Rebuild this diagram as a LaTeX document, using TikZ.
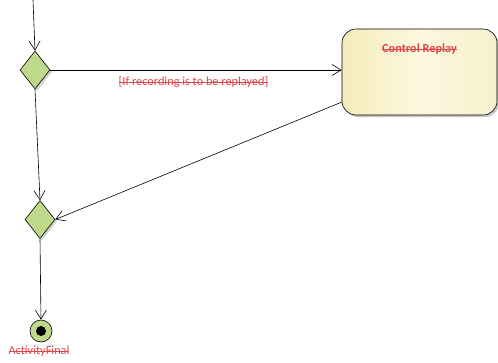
\documentclass[tikz,border=0pt]{standalone}
\usepackage{fontspec}
\setmainfont{Carlito}
\usetikzlibrary{arrows.meta,shapes.geometric,shadows}
\definecolor{lbl}{HTML}{E0474C}
\definecolor{dgreen}{HTML}{BFD98A}
\definecolor{yleft}{HTML}{F6EBBC}
\definecolor{ymid}{HTML}{FCF8E0}
\definecolor{yright}{HTML}{F7F0CC}
\tikzset{
  flow/.style={draw=black, line width=0.6pt, -{Straight Barb[length=9pt,width=11pt,line width=0.6pt]}},
  decision/.style={diamond, draw=black, line width=0.6pt, fill=dgreen, minimum width=30pt, minimum height=38pt, inner sep=0pt, aspect=0.8,
     drop shadow={shadow xshift=2pt, shadow yshift=-2pt, fill=gray!35, opacity=1}},
  action/.style={rounded corners=14pt, draw=black, line width=0.6pt, left color=yleft, right color=yright, middle color=ymid,
     minimum width=155pt, minimum height=86pt,
     drop shadow={shadow xshift=2pt, shadow yshift=-2pt, fill=gray!45, opacity=1}},
  lbltext/.style={text=lbl, font=\fontsize{12.3pt}{14pt}\selectfont, inner sep=0pt, text height=8.5pt, text depth=2.5pt,
     path picture={\draw[lbl, line width=0.7pt] (path picture bounding box.west) -- (path picture bounding box.east);}},
}
\begin{document}
\begin{tikzpicture}[x=1pt,y=-1pt]
\useasboundingbox (0,0) rectangle (498,362);
\coordinate (start) at (33,0);
\node[decision] (d1) at (35,70) {};
\node[decision] (d2) at (40,219.5) {};
\node[action] (act) at (419.5,72) {};
\node[lbltext, font=\bfseries\fontsize{12.3pt}{14pt}\selectfont] (actlbl) at (419.5,49) {Control Replay};
\node[circle, draw=black, line width=0.6pt, fill=dgreen, minimum size=22pt, inner sep=0pt] (fin) at (41,331) {};
\node[circle, fill=black, minimum size=10pt, inner sep=0pt] (finin) at (fin) {};
\node[lbltext] (finlbl) at (39,351.5) {ActivityFinal};
\draw[flow] (start) -- (d1.north);
\draw[flow] (d1.east) -- (act.west |- d1.east);
\node[lbltext] (guard) at (193.5,82.5) {[If recording is to be replayed]};
\coordinate (actout) at (342,102);
\draw[flow] (actout) -- (d2.east);
\draw[flow] (d1.south) -- (d2.north);
\draw[flow] (d2.south) -- (fin.north);
\end{tikzpicture}
\end{document}
